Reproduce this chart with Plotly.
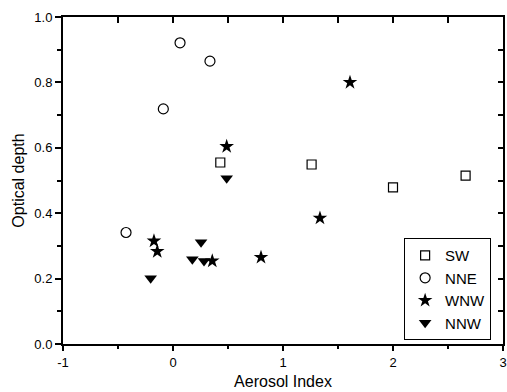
import plotly.graph_objects as go

# Data
sw_x = [0.43, 1.26, 2.00, 2.66]
sw_y = [0.555, 0.549, 0.479, 0.515]

nne_x = [0.064, 0.336, -0.088, -0.427]
nne_y = [0.921, 0.865, 0.719, 0.341]

wnw_x = [0.488, 1.609, 1.336, 0.80, -0.173, -0.143, 0.357]
wnw_y = [0.604, 0.800, 0.385, 0.265, 0.315, 0.283, 0.254]

nnw_x = [0.488, -0.203, 0.255, 0.176, 0.282]
nnw_y = [0.507, 0.201, 0.311, 0.259, 0.254]

x_tickvals = [-1, 0, 1, 2, 3]
x_ticktext = ["-1", "0", "1", "2", "3"]

FONT = "Arial, Liberation Sans, sans-serif"

fig = go.Figure()
fig.add_trace(go.Scatter(x=sw_x, y=sw_y, mode="markers", name="SW",
                         marker=dict(symbol="square-open", size=9, color="black",
                                     line=dict(width=1.2, color="black"))))
fig.add_trace(go.Scatter(x=nne_x, y=nne_y, mode="markers", name="NNE",
                         marker=dict(symbol="circle-open", size=10, color="black",
                                     line=dict(width=1.2, color="black"))))
fig.add_trace(go.Scatter(x=wnw_x, y=wnw_y, mode="markers", name="WNW",
                         marker=dict(symbol="star", size=11, color="black",
                                     line=dict(width=0))))
fig.add_trace(go.Scatter(x=nnw_x, y=nnw_y, mode="markers", name="NNW",
                         marker=dict(symbol="triangle-down", size=11, color="black",
                                     line=dict(width=0))))
# invisible traces so the frame axes (top / right) with inward ticks are drawn
fig.add_trace(go.Scatter(x=sw_x, y=sw_y, xaxis="x2", yaxis="y", mode="markers",
                         marker=dict(opacity=0), showlegend=False, hoverinfo="skip"))
fig.add_trace(go.Scatter(x=sw_x, y=sw_y, xaxis="x", yaxis="y2", mode="markers",
                         marker=dict(opacity=0), showlegend=False, hoverinfo="skip"))

fig.update_layout(
    width=507, height=392,
    margin=dict(l=63, r=4, t=17, b=48),
    paper_bgcolor="white", plot_bgcolor="white",
    font=dict(family=FONT, size=13, color="black"),
    showlegend=True,
    legend=dict(x=0.973, y=0.012, xanchor="right", yanchor="bottom",
                bordercolor="black", borderwidth=1, bgcolor="white",
                font=dict(family=FONT, size=15, color="black"),
                tracegroupgap=0, itemsizing="trace",
                entrywidth=56, entrywidthmode="pixels"),
    xaxis=dict(range=[-1, 3], tickmode="array", tickvals=x_tickvals, ticktext=x_ticktext,
               showgrid=False, zeroline=False,
               showline=True, mirror=True, linecolor="black", linewidth=2, automargin=False,
               ticks="outside", ticklen=5, tickwidth=1.5, tickcolor="black",
               minor=dict(dtick=0.5, tick0=-1, ticks="outside", ticklen=3, tickwidth=1.5, tickcolor="black"),
               title=dict(text="Aerosol Index", font=dict(size=16), standoff=7),
               tickfont=dict(size=13)),
    yaxis=dict(range=[0, 1], dtick=0.2, tick0=0, tickformat=".1f", showgrid=False, zeroline=False,
               showline=True, mirror=True, linecolor="black", linewidth=2, automargin=False,
               ticks="outside", ticklen=6, tickwidth=1.5, tickcolor="black",
               minor=dict(dtick=0.1, ticks="outside", ticklen=4, tickwidth=1.5, tickcolor="black"),
               title=dict(text="Optical depth", font=dict(size=16), standoff=6),
               tickfont=dict(size=13)),
    xaxis2=dict(range=[-1, 3], overlaying="x", side="top", anchor="y",
                dtick=0.5, tick0=-1, showgrid=False, zeroline=False, automargin=False,
                showline=False,
                ticks="inside", ticklen=6, tickwidth=1.5, tickcolor="black",
                showticklabels=False),
    yaxis2=dict(range=[0, 1], overlaying="y", side="right", anchor="x",
                dtick=0.1, tick0=0, showgrid=False, zeroline=False, automargin=False,
                showline=False,
                ticks="inside", ticklen=5, tickwidth=1.5, tickcolor="black",
                showticklabels=False),
)

fig.write_html("out.html", config={"displayModeBar": False},
               post_script="document.body.style.margin='0';")
